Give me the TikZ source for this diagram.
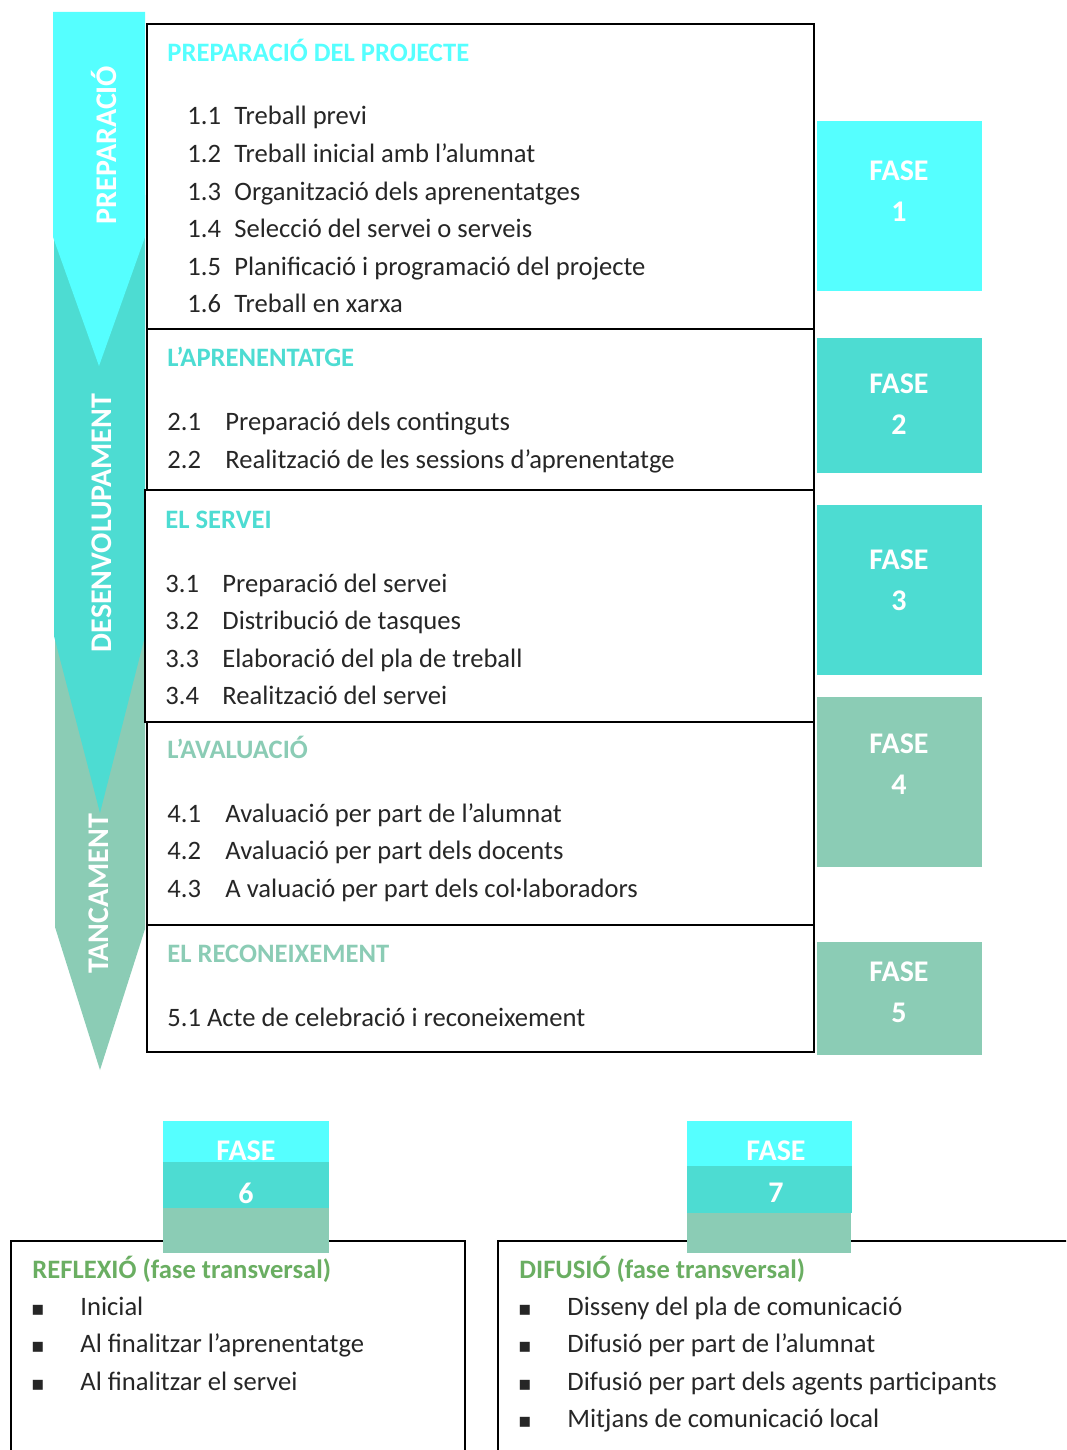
\documentclass[tikz,border=0pt]{standalone}
\usepackage{fontspec}
\setmainfont{Carlito}
\newfontfamily\symfont{DejaVu Sans}
\definecolor{fcyan}{RGB}{85,255,255}
\definecolor{fturq}{RGB}{77,220,210}
\definecolor{fsage}{RGB}{139,204,181}
\definecolor{fgreen}{RGB}{106,174,98}
\definecolor{ftext}{RGB}{38,38,38}

\begin{document}
\begin{tikzpicture}[x=0.5pt,y=-0.5pt,
	every node/.style={inner sep=0pt,font=\fontsize{13.3}{16}\selectfont},
	frame/.style={draw=black,line width=1pt},
	title/.style={anchor=base west,font=\fontsize{13.3}{16}\selectfont\bfseries},
	item/.style={anchor=base west,text=ftext},
	dot/.style={anchor=base,text=ftext,font=\fontsize{10}{12}\selectfont\symfont},
	fase/.style={text=white,font=\fontsize{15}{18}\selectfont\bfseries},
	stage/.style={text=white,rotate=90,font=\fontsize{15}{18}\selectfont\bfseries}]
	\clip (0,0) rectangle (1066,1450);
	\fill[fsage] (55,600) -- (145,600) -- (145,929) -- (100,1070) -- (55,927) -- cycle;
	\fill[fturq] (54,195) -- (145,195) -- (145,636) -- (100,813) -- (54,636) -- cycle;
	\fill[fcyan] (53,12) -- (145,12) -- (145,237) -- (99,366) -- (53,237) -- cycle;
	\node[stage] (prep) at (104,145) {PREPARACIÓ};
	\node[stage] (desen) at (102,523) {DESENVOLUPAMENT};
	\node[stage] (tanc) at (99,894) {TANCAMENT};

	\draw[frame] (147,24) rectangle (814,329);
	\draw[frame] (147,329) rectangle (814,490);
	\draw[frame] (145,490) rectangle (814,722);
	\draw[frame] (147,722) rectangle (814,925);
	\draw[frame] (147,925) rectangle (814,1052);

	\node[title,text=fcyan] (tit1) at (167,62) {PREPARACIÓ DEL PROJECTE};
	\foreach \t [count=\k] in {Treball previ,Treball inicial amb l’alumnat,Organització dels aprenentatges,Selecció del servei o serveis,Planificació i programació del projecte,Treball en xarxa}{
		\node[item] (num1-\k) at (187,87.5+37.5*\k) {1.\k};
		\node[item] (it1-\k) at (234,87.5+37.5*\k) {\t};
	}
	\node[title,text=fturq] (tit2) at (167,366) {L’APRENENTATGE};
	\foreach \t [count=\k] in {Preparació dels continguts,Realització de les sessions d’aprenentatge}{
		\node[item] (num2-\k) at (167,392+38*\k) {2.\k};
		\node[item] (it2-\k) at (225,392+38*\k) {\t};
	}
	\node[title,text=fturq] (tit3) at (165,528) {EL SERVEI};
	\foreach \t [count=\k] in {Preparació del servei,Distribució de tasques,Elaboració del pla de treball,Realització del servei}{
		\node[item] (num3-\k) at (165,554.5+37.5*\k) {3.\k};
		\node[item] (it3-\k) at (222,554.5+37.5*\k) {\t};
	}
	\node[title,text=fsage] (tit4) at (167,758) {L’AVALUACIÓ};
	\foreach \t [count=\k] in {Avaluació per part de l’alumnat,Avaluació per part dels docents,A valuació per part dels col·laboradors}{
		\node[item] (num4-\k) at (167,784.5+37.5*\k) {4.\k};
		\node[item] (it4-\k) at (225,784.5+37.5*\k) {\t};
	}
	\node[title,text=fsage] (tit5) at (167,962) {EL RECONEIXEMENT};
	\node[item] (it5-1) at (167,1026) {5.1 Acte de celebració i reconeixement};

	\foreach \n/\c/\top/\bot/\ty in {1/fcyan/121/291/171,2/fturq/338/473/384,3/fturq/505/675/560,4/fsage/697/867/744,5/fsage/942/1055/972}{
		\fill[\c] (817,\top) rectangle (982,\bot);
		\node[fase] (fase\n) at (899,\ty) {FASE};
		\node[fase] (num\n) at (899,\ty+41) {\n};
	}

	\draw[frame] (11,1470) -- (11,1241) -- (465,1241) -- (465,1470);
	\draw[frame] (498,1470) -- (498,1241) -- (1080,1241);
	\fill[fcyan] (163,1121) rectangle (329,1162);
	\fill[fturq] (163,1162) rectangle (329,1208);
	\fill[fsage] (163,1208) rectangle (329,1253);
	\node[fase] (fase6) at (246,1151) {FASE};
	\node[fase] (num6) at (246,1193) {6};
	\fill[fcyan] (687,1121) rectangle (852,1166);
	\fill[fturq] (687,1166) rectangle (852,1213);
	\fill[fsage] (687,1213) rectangle (851,1253);
	\node[fase] (fase7) at (776,1151) {FASE};
	\node[fase] (num7) at (776,1193) {7};

	\node[title,text=fgreen] (refl) at (32,1278) {REFLEXIÓ (fase transversal)};
	\foreach \t [count=\k] in {Inicial,Al finalitzar l’aprenentatge,Al finalitzar el servei}{
		\node[dot] (bl-\k) at (38,1277.5+37.5*\k) {▪};
		\node[item] (rl-\k) at (80,1277.5+37.5*\k) {\t};
	}
	\node[title,text=fgreen] (difu) at (519,1278) {DIFUSIÓ (fase transversal)};
	\foreach \t [count=\k] in {Disseny del pla de comunicació,Difusió per part de l’alumnat,Difusió per part dels agents participants,Mitjans de comunicació local}{
		\node[dot] (br-\k) at (525,1277.5+37.5*\k) {▪};
		\node[item] (rr-\k) at (567,1277.5+37.5*\k) {\t};
	}
\end{tikzpicture}
\end{document}
